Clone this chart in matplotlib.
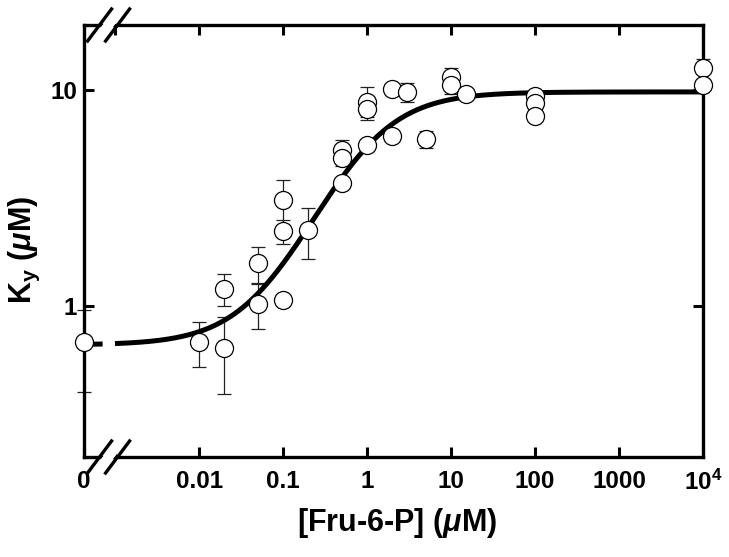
import numpy as np
import matplotlib
matplotlib.use('Agg')
import matplotlib.pyplot as plt
from matplotlib.lines import Line2D
from matplotlib.patches import Polygon
from matplotlib.ticker import NullLocator, FixedLocator

plt.rcParams['font.family'] = ['Liberation Sans', 'DejaVu Sans']
plt.rcParams['mathtext.fontset'] = 'custom'
plt.rcParams['mathtext.rm'] = 'Liberation Sans:bold'
plt.rcParams['mathtext.bf'] = 'Liberation Sans:bold'
plt.rcParams['mathtext.it'] = 'Liberation Sans:italic:bold'

# ---------------- data ----------------
fru6p = [0, 0.01, 0.02, 0.02, 0.05, 0.05, 0.1, 0.1, 0.1, 0.2,
         0.5, 0.5, 0.5, 1, 1, 1, 2, 2, 3, 5,
         10, 10, 15, 100, 100, 100, 10000, 10000]
ky = [0.68, 0.68, 1.20, 0.64, 1.58, 1.02, 3.10, 2.22, 1.07, 2.25,
      5.28, 4.84, 3.71, 8.8, 8.2, 5.56, 10.1, 6.1, 9.8, 5.93,
      11.5, 10.6, 9.6, 9.38, 8.71, 7.58, 12.6, 10.5]
ky_err = [0.28, 0.16, 0.20, 0.25, 0.30, 0.24, 0.72, 0.28, 0.0, 0.60,
          0.60, 0.40, 0.10, 1.5, 0.7, 0.15, 0.2, 0.2, 1.0, 0.55,
          1.1, 1.0, 0.3, 0.3, 0.3, 0.3, 1.3, 0.3]

# fitted hyperbolic curve parameters
fit_min = 0.66
fit_max = 9.8
fit_K = 0.9

xtick_values = [0, 1e-3, 1e-2, 1e-1, 1, 10, 100, 1000, 1e4]
xtick_labels = ['0', '', '0.01', '0.1', '1', '10', '100', '1000', r'10$^{\mathbf{4}}$']
ytick_values = [1, 10]
ytick_labels = ['1', '10']

# ---------------- figure ----------------
W, H = 729, 557
fig = plt.figure(figsize=(W / 100, H / 100), dpi=100)
ax = fig.add_axes([84 / W, 1 - 457 / H, 619 / W, 432 / H])

x_zero = 10 ** -3.37          # where "0" sits on the log axis
x_lo, x_hi = x_zero, 1e4
ax.set_xscale('log')
ax.set_yscale('log')
ax.set_xlim(x_lo, x_hi)
ax.set_ylim(0.2, 20)

xp = np.array([x_zero if v == 0 else v for v in fru6p], dtype=float)
y = np.array(ky)
e = np.array(ky_err)

# axis break range (log10 units)
brk_lo, brk_hi = -3.145, -3.01

# fitted curve, split by the axis break
xc = np.logspace(np.log10(x_lo), np.log10(x_hi), 600)
yc = fit_min + (fit_max - fit_min) * xc / (fit_K + xc)
lx = np.log10(xc)
m1 = lx <= brk_lo
m2 = lx >= brk_hi
ax.plot(xc[m1], yc[m1], color='black', lw=3.6, solid_capstyle='butt', zorder=3, clip_on=False)
ax.plot(xc[m2], yc[m2], color='black', lw=3.6, solid_capstyle='butt', zorder=3, clip_on=False)

# error bars
eb = ax.errorbar(xp, y, yerr=e, fmt='none', ecolor='#222222', elinewidth=0.9,
                 capsize=5, capthick=0.9, zorder=2)
for art in eb.lines[1] + eb.lines[2]:
    art.set_clip_on(False)

# points
ax.plot(xp, y, 'o', ms=13, mfc='white', mec='black', mew=0.9, zorder=5, clip_on=False)

# ticks
ax.xaxis.set_major_locator(FixedLocator(xtick_values[1:]))
ax.set_xticks([x_zero] + xtick_values[1:])
ax.set_xticklabels(xtick_labels)
ax.xaxis.set_minor_locator(NullLocator())
ax.set_yticks(ytick_values)
ax.set_yticklabels(ytick_labels)
ax.yaxis.set_minor_locator(NullLocator())
ax.tick_params(axis='both', which='major', direction='in', length=7, width=2.2,
               top=True, right=True, labelsize=17.5)
ax.tick_params(axis='x', pad=9)
ax.tick_params(axis='y', pad=5)
for lab in ax.get_xticklabels() + ax.get_yticklabels():
    lab.set_fontweight('bold')

for sp in ax.spines.values():
    sp.set_linewidth(2.4)

# axis labels
fig.text(397 / W, 1 - 523 / H, r'[Fru-6-P] ($\mu$M)', ha='center', va='center',
         fontsize=22, fontweight='bold')
fig.text(24 / W, 1 - 250 / H, r'K$_{\mathbf{y}}$ ($\mu$M)', ha='center', va='center',
         rotation=90, fontsize=22, fontweight='bold')

# axis-break marks (drawn in figure fraction)
fig.canvas.draw()
def to_fig(xd, yaxfrac):
    px = ax.transData.transform((xd, 1))[0]
    py = ax.transAxes.transform((0, yaxfrac))[1]
    return px / W, py / H

bc = 10 ** ((brk_lo + brk_hi) / 2)
for yf in (0.0, 1.0):
    cx, cy = to_fig(bc, yf)
    dx, dy = 12 / W, 16 / H
    gx = 6 / W
    poly = Polygon([(cx - gx - dx * 0.9, cy - dy * 0.9), (cx + gx - dx * 0.9, cy - dy * 0.9),
                    (cx + gx + dx * 0.9, cy + dy * 0.9), (cx - gx + dx * 0.9, cy + dy * 0.9)],
                   closed=True, facecolor='white', edgecolor='none',
                   transform=fig.transFigure, zorder=10)
    fig.add_artist(poly)
    for off in (-gx - 3 / W, gx + 3 / W):
        ln = Line2D([cx + off - dx, cx + off + dx], [cy - dy, cy + dy],
                    color='black', lw=2.4, transform=fig.transFigure, zorder=11)
        fig.add_artist(ln)

fig.savefig('out.png', dpi=100)
